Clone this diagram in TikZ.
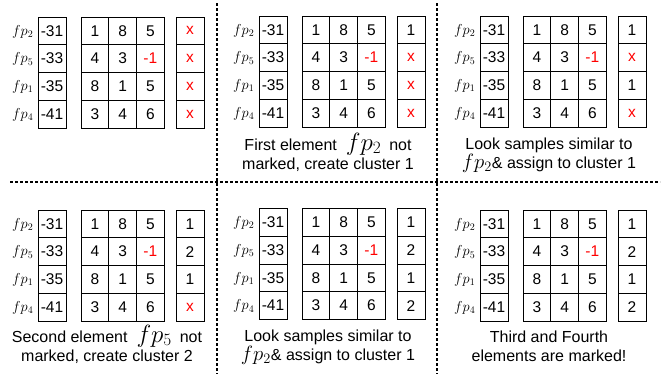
\documentclass[tikz,border=0pt]{standalone}
\usepackage{fontspec}
\setmainfont{Liberation Sans}
\tikzset{
  cell/.style={draw, line width=1pt, minimum width=28pt, minimum height=27.75pt, inner sep=0pt, font=\fontsize{15.5}{18}\selectfont},
  mcell/.style={cell, minimum width=27.67pt},
  fplab/.style={anchor=east, inner sep=0pt, font=\fontsize{14}{16}\selectfont},
  capt/.style={anchor=base, inner sep=0pt, font=\fontsize{16}{19}\selectfont},
  sepline/.style={line width=2pt, dash pattern=on 2.5pt off 2.5pt}
}
\newcommand{\mx}{\textcolor{red}{x}}
\newcommand{\mred}[1]{\textcolor{red}{#1}}
\newcommand{\capmath}[1]{{\fontsize{21}{24}\selectfont$#1$}}
\newcommand{\capmathbig}[1]{{\fontsize{24}{26}\selectfont$#1$}}
% #1 id, #2 x0, #3 y0, #4-#7 right column entries
\newcommand{\gridpanel}[7]{%
  \begin{scope}[shift={(#2,#3)}]
    \foreach \lab/\val/\a/\b/\c/\i in {2/-31/1/8/5/1, 5/-33/4/3/\mred{-1}/2, 1/-35/8/1/5/3, 4/-41/3/4/6/4} {
      \node[fplab] (#1l\i) at (33.5, {14.5+27.75*(\i-1)}) {$fp_{\lab}$};
      \node[cell] (#1a\i) at (52, {13.875+27.75*(\i-1)}) {\val};
      \node[mcell] (#1m\i x1) at (95, {13.875+27.75*(\i-1)}) {\a};
      \node[mcell] (#1m\i x2) at (122.67, {13.875+27.75*(\i-1)}) {\b};
      \node[mcell] (#1m\i x3) at (150.33, {13.875+27.75*(\i-1)}) {\c};
    }
    \node[cell] (#1r1) at (190, 13.875) {#4};
    \node[cell] (#1r2) at (190, 41.625) {#5};
    \node[cell] (#1r3) at (190, 69.375) {#6};
    \node[cell] (#1r4) at (190, 97.125) {#7};
  \end{scope}}
\begin{document}
\begin{tikzpicture}[x=1pt,y=-1pt]
  \useasboundingbox (0,0) rectangle (671,378);
  % separators
  \draw[sepline] (10,182) -- (660,182);
  \draw[sepline] (217,3) -- (217,374);
  \draw[sepline] (437,3) -- (437,374);
  % panels
  \gridpanel{pa}{0}{17}{\mx}{\mx}{\mx}{\mx}
  \gridpanel{pb}{221}{16}{1}{\mx}{\mx}{\mx}
  \gridpanel{pc}{442}{16}{1}{\mx}{1}{\mx}
  \gridpanel{pd}{0}{210}{1}{2}{1}{\mx}
  \gridpanel{pe}{221}{208.5}{1}{2}{1}{2}
  \gridpanel{pf}{442}{210}{1}{2}{1}{2}
  % captions
  \node[capt] (pbc1) at (328,150) {First element\hspace{9pt}\capmathbig{fp_2}\hspace{8pt}not};
  \node[capt] (pbc2) at (328,169) {marked, create cluster 1};
  \node[capt] (pcc1) at (549,149) {Look samples similar to};
  \node[capt] (pcc2) at (549,168) {\capmath{fp_2}\& assign to cluster 1};
  \node[capt] (pdc1) at (107,342) {Second element\hspace{9pt}\capmathbig{fp_5}\hspace{8pt}not};
  \node[capt] (pdc2) at (107,361) {marked, create cluster 2};
  \node[capt] (pec1) at (328,341) {Look samples similar to};
  \node[capt] (pec2) at (328,360) {\capmath{fp_2}\& assign to cluster 1};
  \node[capt] (pfc1) at (549,342) {Third and Fourth};
  \node[capt] (pfc2) at (549,361) {elements are marked!};
\end{tikzpicture}
\end{document}
